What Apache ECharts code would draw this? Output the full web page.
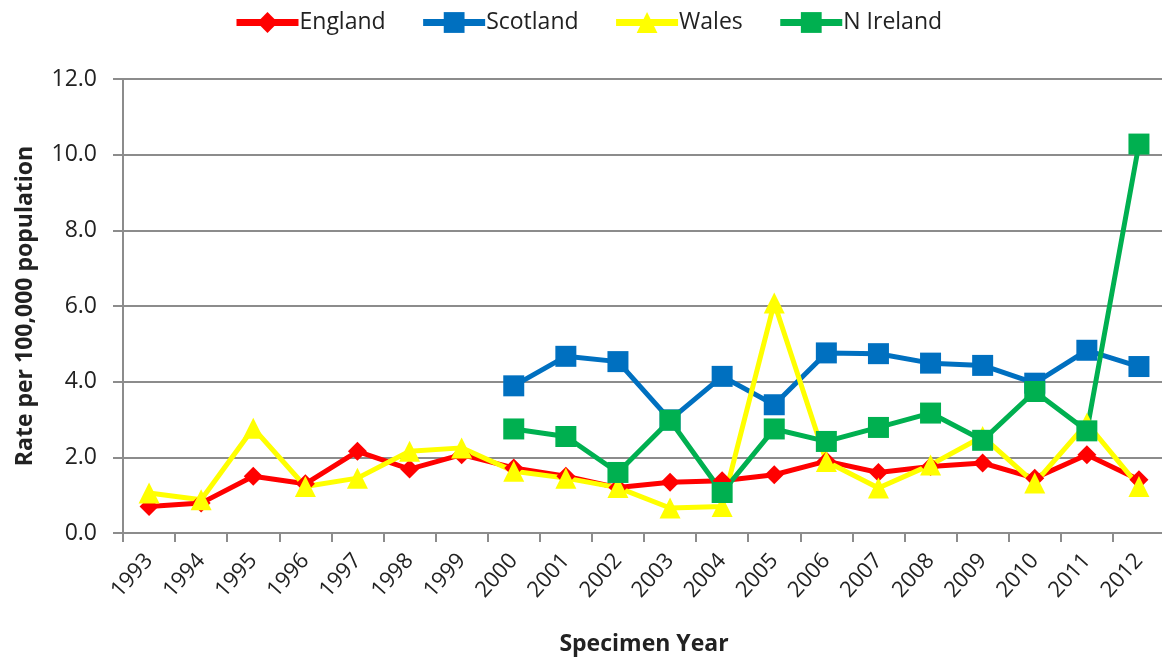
<!DOCTYPE html>
<html>
<head>
<meta charset="utf-8">
<script src="https://cdn.jsdelivr.net/npm/echarts@6/dist/echarts.min.js"></script>
<style>
  html, body { margin: 0; padding: 0; background: #fff; }
  #chart { width: 1162px; height: 658px; }
</style>
</head>
<body>
<div id="chart"></div>
<script>
var years = ['1993', '1994', '1995', '1996', '1997', '1998', '1999', '2000', '2001', '2002',
  '2003', '2004', '2005', '2006', '2007', '2008', '2009', '2010', '2011', '2012'];
var england = [0.70, 0.79, 1.50, 1.30, 2.16, 1.69, 2.07, 1.72, 1.50, 1.20,
  1.34, 1.38, 1.54, 1.90, 1.60, 1.76, 1.85, 1.45, 2.07, 1.41];
var scotland = [null, null, null, null, null, null, null, 3.89, 4.67, 4.53,
  2.99, 4.14, 3.39, 4.76, 4.74, 4.49, 4.43, 3.96, 4.83, 4.40];
var wales = [1.06, 0.88, 2.77, 1.23, 1.45, 2.16, 2.25, 1.63, 1.45, 1.20,
  0.66, 0.70, 6.08, 1.89, 1.19, 1.80, 2.55, 1.32, 2.90, 1.23];
var nIreland = [null, null, null, null, null, null, null, 2.75, 2.55, 1.60,
  2.98, 1.07, 2.75, 2.42, 2.79, 3.17, 2.45, 3.74, 2.70, 10.28];

var font = '"Open Sans", sans-serif';
var grey = '#8c8c8c';

var chart = echarts.init(document.getElementById('chart'), null, { renderer: 'canvas' });

function lineSeries(name, data, color, symbol, size) {
  return {
    name: name,
    type: 'line',
    data: data,
    symbol: symbol,
    symbolSize: size,
    connectNulls: false,
    lineStyle: { color: color, width: 5 },
    itemStyle: { color: color },
    emphasis: { disabled: true }
  };
}

chart.setOption({
  backgroundColor: '#fff',
  animation: false,
  textStyle: { fontFamily: font },
  legend: {
    top: 6,
    left: 228,
    itemWidth: 62,
    itemHeight: 26,
    itemGap: 34,
    lineStyle: { width: 7 },
    textStyle: { color: '#222', fontSize: 23, fontFamily: font, padding: [0, 0, 0, -4] },
    data: ['England', 'Scotland', 'Wales', 'N Ireland']
  },
  grid: { left: 123, top: 79, width: 1042, height: 454, outerBoundsMode: 'none' },
  xAxis: {
    type: 'category',
    data: years,
    boundaryGap: true,
    name: 'Specimen Year',
    nameLocation: 'middle',
    nameGap: 100,
    nameTextStyle: { color: '#222', fontSize: 23, fontWeight: 'bold', fontFamily: font },
    axisLine: { lineStyle: { color: grey, width: 2 } },
    axisTick: { show: true, length: 9, lineStyle: { color: grey, width: 2 } },
    axisLabel: { color: '#222', fontSize: 22, rotate: 48, margin: 24, interval: 0, fontFamily: font },
    splitLine: { show: false }
  },
  yAxis: {
    type: 'value',
    min: 0,
    max: 12,
    interval: 2,
    name: 'Rate per 100,000 population',
    nameLocation: 'middle',
    nameGap: 86,
    nameTextStyle: { color: '#222', fontSize: 23, fontWeight: 'bold', fontFamily: font },
    axisLine: { show: true, lineStyle: { color: grey, width: 2 } },
    axisTick: { show: true, length: 10, lineStyle: { color: grey, width: 2 } },
    axisLabel: {
      color: '#222', fontSize: 23, margin: 26, fontFamily: font,
      formatter: function (v) { return v.toFixed(1); }
    },
    splitLine: { lineStyle: { color: grey, width: 2 } }
  },
  series: [
    lineSeries('England', england, '#ff0000', 'diamond', 19),
    lineSeries('Scotland', scotland, '#0070c0', 'rect', 21),
    lineSeries('Wales', wales, '#ffff00', 'triangle', 21),
    lineSeries('N Ireland', nIreland, '#00b050', 'rect', 21)
  ]
});
</script>
</body>
</html>
